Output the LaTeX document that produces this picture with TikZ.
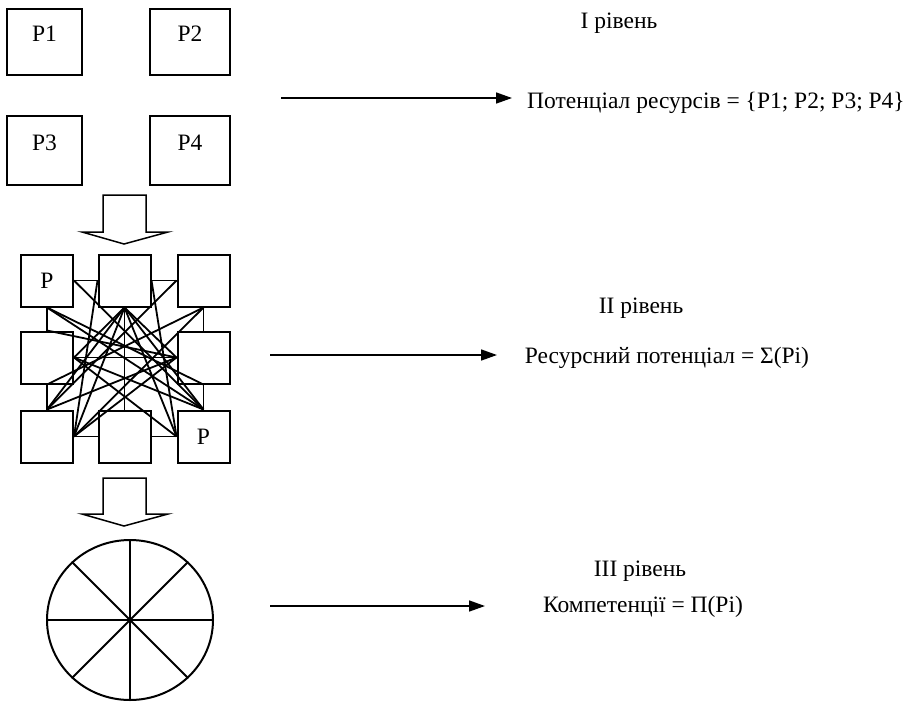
\documentclass[tikz,border=0pt]{standalone}
\usepackage{fontspec}
\setmainfont{Liberation Serif}
\usetikzlibrary{arrows.meta,shapes.geometric}
\tikzset{
  res/.style={draw, line width=2pt, minimum height=66pt, inner sep=0pt, text height=15pt, text depth=16pt},
  cell/.style={draw, line width=2pt, fill=white, minimum size=52pt, inner sep=0pt},
  link/.style={line width=1.8pt},
  lvl/.style={inner sep=0pt},
  arrow/.style={-{Triangle[length=16pt,width=11pt]}, line width=1.6pt},
  block/.style={draw, line width=1.5pt, fill=white}
}
\begin{document}
\begin{tikzpicture}[x=1pt, y=-1pt, font=\rmfamily\fontsize{23.5}{28}\selectfont]
    \useasboundingbox (0,0) rectangle (913,702);
    % Level I: resources
    \node[res, minimum width=75pt] (p1) at (44.5,42) {P1};
    \node[res, minimum width=80pt] (p2) at (190,42) {P2};
    \node[res, minimum width=75pt, minimum height=69pt] (p3) at (44.5,150.5) {P3};
    \node[res, minimum width=80pt, minimum height=69pt] (p4) at (190,150.5) {P4};
    % Block arrow down
    \draw[block] (103,195) -- (146,195) -- (146,232) -- (168,232) -- (124,244) -- (82,232) -- (103,232) -- cycle;
    % Level II: grid of resources
    \node[cell] (gtl) at (47,280.5) {P};
    \node[cell] (gtm) at (124.5,280.5) {};
    \node[cell] (gtr) at (203.5,280.5) {};
    \node[cell] (gml) at (47,357.5) {};
    \node[cell] (gmr) at (203.5,357.5) {};
    \node[cell] (gbl) at (47,436.5) {};
    \node[cell] (gbm) at (124.5,436.5) {};
    \node[cell] (gbr) at (203.5,436.5) {P};
    % Links between resources
    \foreach \u/\v in {gtl.east/gtm.west, gtm.east/gtr.west, gtr.south/gmr.north, gmr.south/gbr.north,
        gbr.west/gbm.east, gbm.west/gbl.east, gbl.north/gml.south, gml.north/gtl.south,
        gtm.south/gbm.north, gml.east/gmr.west,
        gtm.south/gml.east, gtm.south/gmr.west, gtm.south/gbl.north, gtm.south/gbl.east,
        gtm.south/gbr.west, gtm.south/gbr.north,
        gtl.east/gbr.north, gtr.west/gbl.north, gtm.west/gbl.east, gtm.east/gbr.west,
        gtl.south/gmr.south, gtr.south/gml.south, gml.north/gmr.west,
        gml.east/gbr.north, gmr.west/gbl.north, gml.east/gbr.west, gmr.west/gbl.east,
        gtr.south/gbl.east, gtl.south/gbr.north}
      \draw[link] (\u) -- (\v);
    % Block arrow down
    \draw[block] (103,478) -- (146,478) -- (146,514) -- (168,514) -- (124,526) -- (82,514) -- (103,514) -- cycle;
    % Level III: competences
    \node[draw, ellipse, line width=2pt, minimum width=166pt, minimum height=160pt, inner sep=0pt] (comp) at (130,620) {};
    \foreach \a/\b in {0/180, 45/225, 90/270, 135/315}
      \draw[link] (comp.\a) -- (comp.\b);
    % Level labels
    \node[lvl] (l1) at (619,23) {I рівень};
    \node[lvl] (f1) at (716,103) {Потенціал ресурсів = \{P1; P2; P3; P4\}};
    \node[lvl] (l2) at (641,308) {II рівень};
    \node[lvl] (f2) at (667,358) {Ресурсний потенціал = Σ(Pi)};
    \node[lvl] (l3) at (640,571) {III рівень};
    \node[lvl] (f3) at (643,607) {Компетенції = Π(Pi)};
    % Arrows to formulas
    \coordinate (s1) at (281,98);  \coordinate (t1) at (512,98);
    \coordinate (s2) at (270,355); \coordinate (t2) at (497,355);
    \coordinate (s3) at (270,606); \coordinate (t3) at (485,606);
    \draw[arrow] (s1) -- (t1);
    \draw[arrow] (s2) -- (t2);
    \draw[arrow] (s3) -- (t3);
\end{tikzpicture}
\end{document}
